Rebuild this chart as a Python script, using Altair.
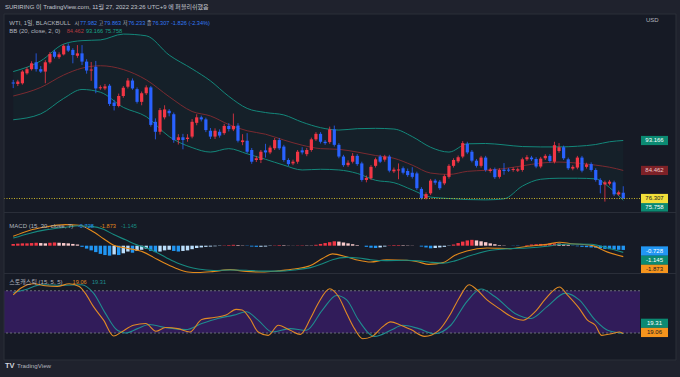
import altair as alt
import pandas as pd

# ---------------- data ----------------
opens = [110.0,109.6,109.8,112.7,113.9,115.9,113.9,113.2,115.9,119.0,117.4,118.2,120.7,119.5,117.8,118.5,116.1,113.5,114.6,108.4,
         108.3,109.1,104.2,103.2,106.1,108.8,110.6,108.1,104.4,106.9,108.6,98.6,95.7,99.9,101.8,100.8,93.3,94.1,93.6,94.3,
         98.3,99.9,99.3,96.0,94.3,95.7,95.3,97.4,96.4,97.5,92.7,93.1,90.4,87.5,87.5,90.3,89.7,90.9,93.3,91.4,
         87.5,86.5,87.0,90.3,89.2,90.4,93.5,95.1,92.8,92.7,96.4,91.9,88.5,86.0,87.0,88.7,86.5,81.7,82.2,85.8,
         88.5,87.6,88.5,84.2,84.5,85.1,84.3,83.8,83.6,79.1,76.4,77.8,81.5,81.2,80.7,82.6,85.8,87.1,88.5,92.2,
         89.9,87.3,85.8,88.2,84.3,84.8,82.6,84.7,84.6,84.6,84.4,84.6,87.7,88.2,87.8,85.6,88.0,88.7,87.0,90.1,
         91.2,87.7,85.0,85.3,88.2,85.5,86.3,84.6,81.7,80.4,80.6,81.0,77.5,77.982]
highs = [110.8,110.8,113.6,114.5,116.2,118.5,114.8,116.5,118.9,119.5,118.8,121.1,121.4,120.0,120.9,120.9,116.8,116.0,116.3,109.2,
         109.6,109.6,105.0,106.8,109.0,111.3,111.2,108.6,107.4,109.2,109.0,99.6,102.6,103.4,102.3,101.3,95.0,95.1,95.0,99.4,
         100.8,100.4,99.8,96.8,96.7,96.4,98.0,98.2,101.0,98.2,95.0,95.3,91.0,88.7,90.4,92.2,91.7,93.9,93.9,91.9,
         88.0,87.6,90.4,91.2,91.0,94.0,95.6,95.6,93.3,97.2,97.5,92.4,89.0,87.4,89.5,89.2,87.0,83.0,86.0,88.2,
         89.0,89.0,89.0,85.3,86.5,85.6,85.0,85.4,84.1,79.6,78.1,82.0,82.0,81.7,83.3,86.3,88.0,88.8,93.0,92.8,
         90.4,87.8,88.7,88.7,85.2,85.3,85.1,86.6,85.2,85.4,85.3,88.2,88.9,88.7,88.3,88.4,89.2,89.2,92.8,92.4,
         91.7,88.2,86.0,88.7,88.7,86.7,86.8,85.1,82.2,81.5,81.7,81.5,78.6,79.863]
lows = [108.4,109.0,109.4,112.3,113.5,113.2,112.8,109.8,115.5,117.0,116.9,117.9,118.9,115.6,117.2,115.1,112.6,110.5,106.9,107.9,
        107.8,103.2,101.9,102.8,105.6,108.3,107.9,103.9,103.4,106.4,97.2,93.5,94.9,99.3,100.2,92.5,92.0,90.6,92.8,93.8,
        97.6,98.7,95.6,93.6,93.6,94.0,94.8,95.8,95.9,92.6,91.8,89.4,86.4,86.9,86.6,88.2,89.2,90.4,90.4,87.0,
        85.7,86.0,86.4,89.1,88.6,89.9,93.0,92.3,91.9,92.2,91.4,88.0,85.5,85.5,86.5,85.8,81.2,81.0,81.7,85.3,
        86.6,87.0,83.9,83.7,81.9,83.3,82.6,82.1,78.8,76.0,76.0,77.3,80.3,78.8,80.2,82.1,85.3,86.6,88.0,89.2,
        86.8,85.3,85.3,84.1,83.8,82.0,82.1,83.2,84.0,84.1,84.0,84.1,87.2,87.2,85.1,85.1,87.5,86.7,86.5,89.6,
        87.5,84.6,84.5,84.8,83.9,85.0,84.1,81.2,77.8,75.4,80.1,77.0,77.1,76.233]
closes = [109.8,110.3,113.2,113.9,115.6,113.9,113.2,115.9,118.3,117.5,118.2,120.7,119.3,118.0,118.5,116.1,113.5,113.8,108.3,108.6,
          108.9,103.8,103.2,106.1,108.5,110.6,108.3,104.4,106.9,108.6,97.7,95.7,102.0,102.2,101.1,93.3,94.1,93.3,94.0,98.6,
          99.9,99.3,96.2,94.3,96.0,94.6,97.4,96.5,97.4,93.1,93.2,89.9,87.0,88.0,89.9,89.7,91.1,93.3,90.9,87.5,
          86.3,87.0,89.9,89.7,90.4,93.5,95.1,92.8,92.4,96.4,91.9,88.5,86.0,86.7,88.7,86.3,81.7,82.3,85.5,87.7,
          87.0,88.5,84.4,84.7,84.7,83.8,83.1,82.6,79.3,76.4,77.6,81.5,80.9,79.3,82.8,85.8,87.5,88.3,92.4,89.7,
          87.3,85.8,88.2,84.6,84.7,82.5,84.6,84.3,84.5,84.9,84.8,87.7,88.3,87.7,85.6,87.9,88.7,87.2,91.8,91.2,
          88.0,85.1,85.5,88.2,84.4,86.2,84.6,81.7,80.2,81.0,81.2,77.5,78.1,76.307]

# Bollinger bands (20, 2) sampled along the bars
bb_i = [1,7,12,16,20,25,30,35,40,44,48,52,56,60,64,68,72,76,80,84,88,92,96,100,104,108,112,116,120,124,128,131,134]
bb_upper = [113.2,116.3,121.2,122.2,122.4,124.1,123.6,118.0,114.0,110.5,106.0,102.5,101.3,100.6,98.5,96.9,96.2,96.6,96.7,96.5,
            94.3,91.2,89.8,92.2,92.3,91.9,91.4,91.3,91.3,91.5,92.0,92.8,93.166]
bb_mid = [106.1,108.6,112.2,114.2,114.9,113.8,110.8,105.9,101.6,100.3,97.8,96.0,95.0,93.3,91.8,90.8,90.6,89.8,88.8,88.0,
          86.0,83.7,83.3,84.2,84.5,85.0,85.8,86.6,86.9,86.6,86.0,85.4,84.462]
bb_lower = [99.2,100.9,105.4,108.0,107.2,102.8,100.1,94.3,91.1,89.8,90.8,89.3,87.7,86.0,84.6,84.8,84.6,83.6,81.6,80.9,
            78.8,76.7,76.3,76.0,75.9,76.2,79.9,81.9,82.2,82.2,82.0,79.5,75.758]

# MACD (15, 30, 7)
hist = [0.3,0.35,0.4,0.4,0.45,0.5,0.45,0.4,0.5,0.55,0.5,0.45,0.4,0.3,0.2,
        -0.2,-0.5,-0.8,-1.1,-1.4,-1.6,-1.7,
        -1.5,-1.6,-1.3,-1.0,-1.2,-0.9,-0.7,-0.5,
        -0.9,-1.1,-1.0,-0.8,-0.7,-0.9,-1.0,-0.9,-0.8,-0.6,-0.4,
        -0.3,-0.2,-0.15,-0.1,-0.05,
        0.05,0.1,0.15,0.1,0.05,-0.05,
        -0.15,-0.2,-0.2,-0.15,-0.05,
        0.05,0.1,0.08,0.03,0.02,
        0.05,0.06,0.05,0.04,
        0.15,0.3,0.45,0.6,0.75,0.7,0.55,
        0.4,0.25,0.1,0.0,
        -0.2,-0.35,-0.4,-0.3,-0.15,
        0.05,0.1,0.1,0.08,0.05,0.03,0.0,
        -0.15,-0.3,-0.45,-0.4,-0.3,-0.2,-0.05,
        0.2,0.45,0.7,0.9,1.0,0.9,0.75,0.6,0.4,0.25,
        0.1,0.05,0.0,-0.03,-0.05,0.0,
        0.1,0.2,0.25,0.3,0.3,0.35,0.4,0.35,0.25,0.15,
        -0.05,-0.1,-0.2,-0.25,-0.3,-0.35,-0.45,-0.55,-0.6,-0.65,-0.7,-0.728]
macd_i = [1,4.5,8,12.4,15.4,18,20.7,22.9,25.5,28.1,29.4,31.6,34.3,36.9,39.1,41.3,44.8,48.3,51.8,55.3,
          58.8,62.3,65.8,68.4,70.6,73.7,76.3,78.9,82.4,86.8,89.4,91.6,94.7,97.3,99.9,104.3,109.5,113.1,117.4,120.1,
          122.7,127.1,130.6,134]
macd_line = [1.6,2.6,3.2,3.6,3.5,2.6,1.2,0.06,-0.4,-0.8,-1.1,-2.0,-3.1,-4.0,-4.5,-4.6,-4.4,-4.1,-4.4,-4.5,
             -4.3,-4.0,-3.4,-2.2,-1.4,-1.9,-2.5,-2.8,-2.4,-2.5,-2.8,-3.2,-2.9,-1.65,-0.9,-0.4,-0.5,-0.1,0.23,0.6,
             0.34,0.06,-1.1,-1.873]
signal_line = [1.3,2.1,2.7,3.15,3.4,3.3,2.8,1.9,1.0,0.1,-0.2,-0.9,-2.0,-3.0,-3.6,-4.0,-4.25,-4.15,-4.2,-4.35,
               -4.35,-4.15,-3.75,-3.1,-2.4,-2.0,-2.1,-2.4,-2.55,-2.5,-2.6,-2.8,-3.0,-2.6,-1.9,-0.9,-0.5,-0.4,-0.1,0.2,
               0.3,0.25,-0.4,-1.145]

# Stochastic (15, 5, 5)
stk_i = [1,2.7,5.4,8.0,10.6,13.2,15.4,16.7,18.5,20.7,22.9,24.6,27.2,29.9,32.1,34.2,36.9,39.5,42.1,44.8,
         47.4,49.6,50.9,52.6,54.4,56.6,58.8,61.4,63.6,65.8,67.5,70.0,71.9,73.7,75.4,77.2,79.3,81.5,83.3,85.5,
         87.7,90.7,93.8,96.4,98.2,100.4,102.1,104.3,106.9,110.4,112.2,114.8,117.0,120.1,121.8,124.4,126.2,127.9,129.3,131.4,
         133.2,134]
stk_k = [74.2,83.8,90,87,86,90,86,76.6,57.4,38.2,15.7,21.4,31,33.4,22.4,27.7,26.2,21.4,39.2,42,
         45.4,53.6,52.6,40.6,21.4,16.6,31,23.8,18,40.6,62.2,82.9,71.8,47.8,26.2,11.8,15.2,28.6,35.8,31,
         24.8,15.2,23.8,47.8,69.4,88.6,81.4,67,55,40.6,38.2,50.2,68,85.3,74.2,55,38.2,31,16.6,19,
         21.4,19.06]
std_i = [1,3.6,7.1,11.5,15.9,18.5,21.1,23.7,25.5,28.1,30.7,34.2,38.6,42.1,45.6,49.1,51.8,54.4,57.5,61.4,
         64.9,68.4,71.5,73.7,76.3,79.8,83.3,85.9,89.4,92.9,96.4,99.9,103.0,106.0,110.4,113.9,117.4,121.4,124.4,127.9,
         130.6,134]
std_d = [77.6,81.4,88.6,87.7,88.6,76.6,47.8,23.8,20,26.2,32,27.7,24.8,33.4,40.6,45.4,50.2,38.2,21.4,26.2,
         23.8,52.6,73.3,67,38.2,15.2,23.8,31,26.2,19,31,64.6,82.4,71.8,47.8,40.6,57.4,76.6,67,38.2,
         23.8,19.31]

tick_i = [7, 20, 29, 40, 50, 60, 73, 85, 95, 105, 116, 125]
tick_lab = ["6월", "20", "7월", "18", "8월", "15", "9월", "19", "10월", "17", "11월", "14"]
price_ticks = [80, 85, 90, 95, 100, 105, 110, 115, 120, 125]
macd_ticks = [0, 4]
stoch_ticks = [50, 75, 100]

# ---------------- styling ----------------
FONT = "Liberation Sans, Noto Sans CJK KR, sans-serif"
TXT = "#b2b5be"
BG = "#161a25"
OUT = "#1f222d"
GRID = "#20242f"
SEP = "#2a2e39"
UP = "#f23645"
DN = "#2962ff"
TEAL = "#13877a"
MIDC = "#7a2a30"
ORANGE = "#e38a1c"
MTEAL = "#178a80"
SK = "#e08a24"
SD = "#1f8d8f"
VBLUE = "#3179f5"
FS = 6

W, H = 636, 328
XS = alt.Scale(domain=[0.08, 136.56], nice=False, zero=False)
YM = alt.Scale(domain=[72.38, 129.94], range=[198, 0], nice=False, zero=False)
YD = alt.Scale(domain=[-4.67, 5.59], range=[259, 199], nice=False, zero=False)
YS = alt.Scale(domain=[7.2, 103.8], range=[328, 260], nice=False, zero=False)
PPU_M, PPU_D, PPU_S = 198 / (129.94 - 72.38), 60 / (5.59 + 4.67), 68 / (103.8 - 7.2)

ONE = pd.DataFrame({"a": [0]})


def X(field="i"):
    return alt.X(f"{field}:Q", scale=XS, axis=None)


def T(x, y, s, color=TXT, size=FS, align="left", weight="normal"):
    return alt.Chart(ONE).mark_text(text=s, align=align, baseline="middle", font=FONT,
                                    fontSize=size, color=color, fontWeight=weight).encode(
        x=alt.value(x), y=alt.value(y))


def R(x, x2, y, y2, fill, stroke=None):
    kw = dict(fill=fill)
    if stroke:
        kw["stroke"] = stroke
        kw["strokeWidth"] = 1
    return alt.Chart(ONE).mark_rect(**kw).encode(
        x=alt.value(x), x2=alt.value(x2), y=alt.value(y), y2=alt.value(y2))


def HL(y, x=0, x2=672, color=SEP):
    return alt.Chart(ONE).mark_rule(color=color, strokeWidth=1).encode(
        x=alt.value(x), x2=alt.value(x2), y=alt.value(y))


def boxes(rows, scale, ppu):
    df = pd.DataFrame(rows, columns=["v", "off", "fill", "tcol", "lab"])
    df["c"] = df["v"] - df["off"] / ppu
    df["lo"] = df["c"] - 4.6 / ppu
    df["hi"] = df["c"] + 4.6 / ppu
    df["k"] = range(len(df))
    r = alt.Chart(df).mark_rect().encode(
        x=alt.value(637), x2=alt.value(664),
        y=alt.Y("lo:Q", scale=scale, axis=None), y2="hi:Q",
        fill=alt.Fill("fill:N", scale=None), order="k:Q")
    t = alt.Chart(df).mark_text(font=FONT, fontSize=FS, align="center", baseline="middle").encode(
        x=alt.value(650.5), y=alt.Y("c:Q", scale=scale, axis=None),
        text="lab:N", color=alt.Color("tcol:N", scale=None))
    return r, t


def axis_y(values, fmt):
    return alt.Axis(orient="right", values=values, format=fmt, labelAlign="right", labelPadding=29,
                    ticks=False, domain=False, grid=True, gridColor=GRID, labelColor=TXT,
                    labelFontSize=FS, labelFont=FONT, title=None, labelOverlap=False)


# ---------------- main price pane ----------------
cd = pd.DataFrame({"i": range(1, len(closes) + 1), "o": opens, "h": highs, "l": lows, "c": closes})
cd["col"] = [UP if c >= o else DN for o, c in zip(opens, closes)]
cd["bt"] = [max(o, c) if abs(c - o) >= 0.3 else (o + c) / 2 + 0.15 for o, c in zip(opens, closes)]
cd["bb"] = [min(o, c) if abs(c - o) >= 0.3 else (o + c) / 2 - 0.15 for o, c in zip(opens, closes)]

bb = pd.DataFrame({"i": bb_i, "up": bb_upper, "mid": bb_mid, "lo": bb_lower})

bb_fill = alt.Chart(bb).mark_area(color=TEAL, opacity=0.06, interpolate="monotone").encode(
    x=X(), y=alt.Y("up:Q", scale=YM, axis=axis_y(price_ticks, ".3f")), y2="lo:Q")
bb_up = alt.Chart(bb).mark_line(color=TEAL, strokeWidth=1, interpolate="monotone").encode(
    x=X(), y=alt.Y("up:Q", scale=YM, axis=None))
bb_lo = alt.Chart(bb).mark_line(color=TEAL, strokeWidth=1, interpolate="monotone").encode(
    x=X(), y=alt.Y("lo:Q", scale=YM, axis=None))
bb_md = alt.Chart(bb).mark_line(color=MIDC, strokeWidth=1, interpolate="monotone").encode(
    x=X(), y=alt.Y("mid:Q", scale=YM, axis=None))

x_axis = alt.Axis(values=tick_i,
                  labelExpr="[" + ",".join(f"'{s}'" for s in tick_lab) + "][indexof(["
                            + ",".join(str(v) for v in tick_i) + "], datum.value)]",
                  grid=True, gridColor=GRID, ticks=False, domain=False, labelPadding=5,
                  labelColor=TXT, labelFontSize=FS, labelFont=FONT, title=None,
                  labelFlush=False, labelOverlap=False)

wicks = alt.Chart(cd).mark_rule(strokeWidth=1, opacity=0.8).encode(
    x=alt.X("i:Q", scale=XS, axis=x_axis), y=alt.Y("l:Q", scale=YM, axis=None), y2="h:Q",
    color=alt.Color("col:N", scale=None))
bodies = alt.Chart(cd).mark_bar(size=3.2).encode(
    x=X(), y=alt.Y("bb:Q", scale=YM, axis=None), y2="bt:Q",
    color=alt.Color("col:N", scale=None))

last_line = alt.Chart(pd.DataFrame({"v": [closes[-1]]})).mark_rule(
    color="#c9b42b", strokeDash=[1, 1.5], strokeWidth=1).encode(y=alt.Y("v:Q", scale=YM, axis=None))

mb_r, mb_t = boxes([
    (93.166, 0, "#0b8a72", "#ffffff", "93.166"),
    (84.462, 0, "#7d2127", "#e9c9cb", "84.462"),
    (75.758, 6.6, "#0b8a72", "#ffffff", "75.758"),
    (76.307, 0, "#f2df3a", "#131722", "76.307"),
], YM, PPU_M)

main = alt.layer(bb_fill, bb_up, bb_lo, bb_md, wicks, bodies, last_line, mb_r, mb_t)

# ---------------- MACD pane ----------------
hcol = []
prev = None
for h in hist:
    if h >= 0:
        hcol.append("#f23645" if (prev is None or h >= prev) else "#fccbcd")
    else:
        hcol.append("#2196f3" if (prev is None or h < prev) else "#bbdefb")
    prev = h
hd = pd.DataFrame({"i": range(1, len(hist) + 1), "h": hist, "col": hcol})
md = pd.DataFrame({"i": macd_i, "m": macd_line, "s": signal_line})

hbars = alt.Chart(hd).mark_bar(size=3.4).encode(
    x=X(), y=alt.Y("h:Q", scale=YD, axis=axis_y(macd_ticks, ".3f")), y2=alt.datum(0),
    color=alt.Color("col:N", scale=None))
mline = alt.Chart(md).mark_line(color=ORANGE, strokeWidth=1.1, interpolate="monotone").encode(
    x=X(), y=alt.Y("m:Q", scale=YD, axis=None))
sline = alt.Chart(md).mark_line(color=MTEAL, strokeWidth=1.1, interpolate="monotone").encode(
    x=X(), y=alt.Y("s:Q", scale=YD, axis=None))
db_r, db_t = boxes([
    (-1.873, 12.3, "#f5941d", "#131722", "-1.873"),
    (-1.145, 7.6, "#0b8a72", "#ffffff", "-1.145"),
    (-0.728, 1.0, "#2196f3", "#ffffff", "-0.728"),
], YD, PPU_D)
macd = alt.layer(hbars, mline, sline, db_r, db_t)

# ---------------- Stochastic pane ----------------
kd = pd.DataFrame({"i": stk_i, "k": stk_k})
dd = pd.DataFrame({"i": std_i, "d": std_d})
lv = pd.DataFrame({"top": [80], "bot": [20]})
band = alt.Chart(lv).mark_rect(color="#311c5a").encode(
    x=alt.value(0), x2=alt.value(W), y=alt.Y("top:Q", scale=YS, axis=axis_y(stoch_ticks, ".2f")), y2="bot:Q")
lvl_t = alt.Chart(lv).mark_rule(color="#6b6e7a", strokeDash=[2, 2], strokeWidth=1).encode(
    y=alt.Y("top:Q", scale=YS, axis=None))
lvl_b = alt.Chart(lv).mark_rule(color="#6b6e7a", strokeDash=[2, 2], strokeWidth=1).encode(
    y=alt.Y("bot:Q", scale=YS, axis=None))
dline = alt.Chart(dd).mark_line(color=SD, strokeWidth=1.1, interpolate="monotone").encode(
    x=X(), y=alt.Y("d:Q", scale=YS, axis=None))
kline = alt.Chart(kd).mark_line(color=SK, strokeWidth=1.1, interpolate="monotone").encode(
    x=X(), y=alt.Y("k:Q", scale=YS, axis=None))
sb_r, sb_t = boxes([
    (19.31, -10.2, "#0b8a72", "#ffffff", "19.31"),
    (19.06, -1.2, "#f5941d", "#131722", "19.06"),
], YS, PPU_S)
stoch = alt.layer(band, lvl_t, lvl_b, dline, kline, sb_r, sb_t)

# ---------------- frame & texts ----------------
deco = [
    R(-4, 676, -14, 0, OUT), R(-4, 676, 346, 363, OUT), R(-4, 0, -14, 363, OUT), R(672, 676, -14, 363, OUT),
    R(0, 672, 0, 346, "transparent", SEP),
    HL(198.5), HL(259.5),
]
KS = 5.2   # size of the single Korean letters in the OHLC legend
VS = 5.6   # size of the legend values
texts = [
    T(1, -7.3, "SURIRING 이 TradingView.com, 11월 27, 2022 23:26 UTC+9 에 퍼블리쉬했음", "#c3c6ce"),
    T(5.3, 8.7, "WTI, 1일, BLACKBULL"),
    T(70.5, 8.7, "시", size=KS), T(76, 8.7, "77.982", VBLUE, VS),
    T(94.6, 8.7, "고", size=KS), T(100.1, 8.7, "79.863", VBLUE, VS),
    T(118.7, 8.7, "저", size=KS), T(124.2, 8.7, "76.233", VBLUE, VS),
    T(142.8, 8.7, "종", size=KS), T(148.3, 8.7, "76.307", VBLUE, VS),
    T(167, 8.7, "-1.826 (-2.34%)", VBLUE, VS),
    T(5.3, 17.3, "BB (20, close, 2, 0)"), T(62.7, 17.3, "84.462", "#b23a3f", VS),
    T(82, 17.3, "93.166", "#19a38a", VS), T(101, 17.3, "75.758", "#19a38a", VS),
    T(5.3, 212, "MACD (15, 30, close, 7)"), T(74, 212, "-0.728", "#2196f3", VS),
    T(96, 212, "-1.873", ORANGE, VS), T(117, 212, "-1.145", MTEAL, VS),
    T(5.3, 268, "스토캐스틱 (15, 5, 5)"), T(68.6, 268, "19.06", SK, VS), T(88, 268, "19.31", SD, VS),
    T(642, 6, "USD"),
    T(1, 352, "TV", "#d1d4dc", 7.5, weight="bold"), T(13, 352, "TradingView", TXT, 6.2),
]

chart = alt.layer(main, macd, stoch, *deco, *texts).resolve_scale(y="independent").properties(
    width=W, height=H, autosize=alt.AutoSizeParams(type="none"),
    padding={"left": 4, "top": 14, "right": 40, "bottom": 35},
).configure(background=BG).configure_view(stroke=None)

chart.save("out.html", embed_options={"renderer": "svg", "actions": False})
